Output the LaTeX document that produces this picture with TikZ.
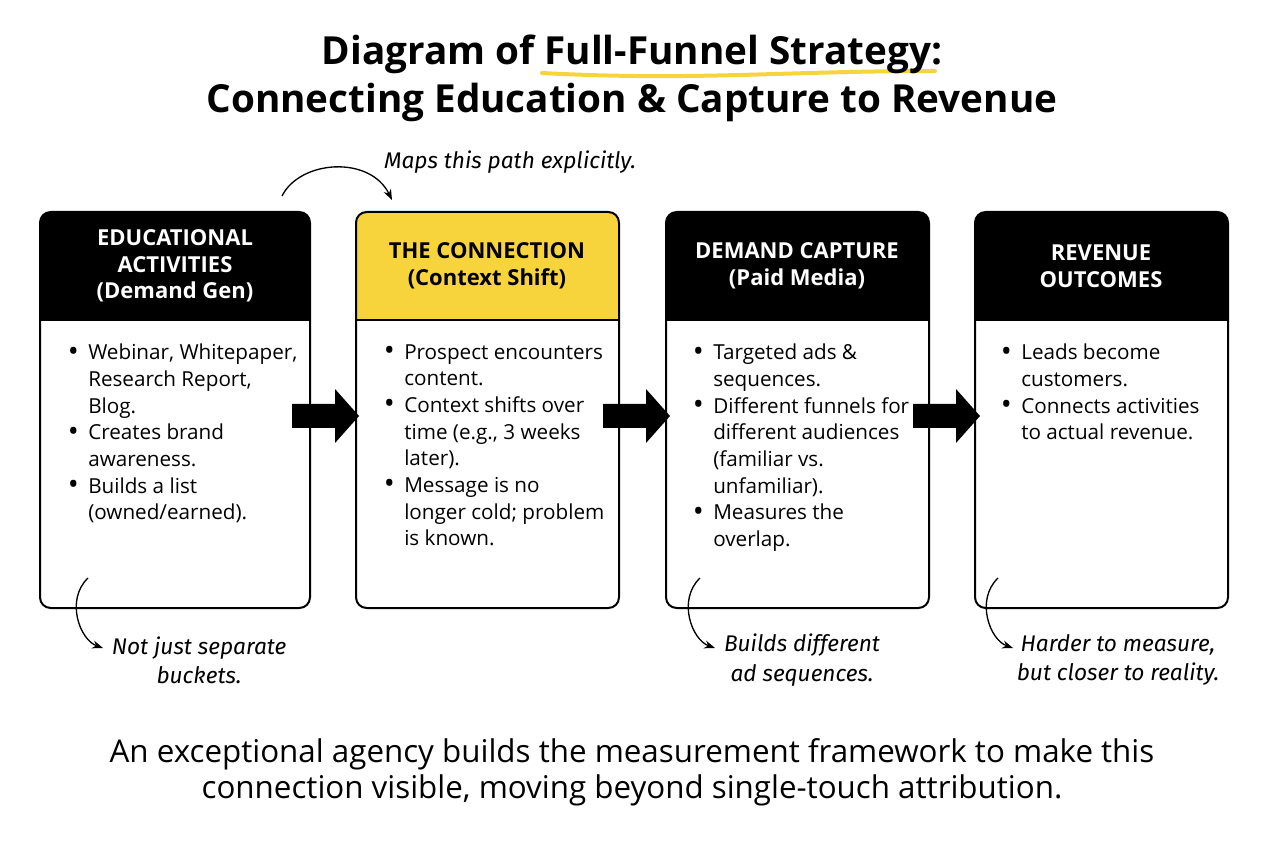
\documentclass[tikz,border=0pt]{standalone}
\usepackage{fontspec}
\setmainfont{Open Sans}
\newfontfamily\hand{Fira Sans}
\usetikzlibrary{arrows.meta}
\definecolor{yel}{HTML}{F7D43C}
\newcommand{\bu}{\llap{\raisebox{-1pt}{\fontsize{22}{20}\selectfont\textbullet}\hspace{7pt}}}
\begin{document}
\begin{tikzpicture}[x=0.75pt,y=-0.75pt,
 box/.style={draw=black,line width=1.5pt,rounded corners=8pt},
 hdr/.style={font=\bfseries\fontsize{16.5}{20}\selectfont,align=center},
 body/.style={font=\fontsize{15.5}{20}\selectfont,anchor=north west,inner sep=0pt,align=left},
 note/.style={font=\hand\itshape\fontsize{17}{22}\selectfont,align=center},
 curl/.style={line width=1pt,-{Stealth[length=8pt]}}]
\useasboundingbox (0,0) rectangle (1264,848);
\draw[yel,line width=3pt,line cap=round] (542,73) to[out=-3,in=180] (935,71);
\node[font=\bfseries\fontsize{29}{36}\selectfont,align=center] (title) at (632,78) {Diagram of Full-Funnel Strategy:\\Connecting Education \& Capture to Revenue};
% boxes
\foreach \a/\b/\c in {40/310/black,356/619/yel,666/929/black,975/1228/black}{
  \begin{scope}
  \clip[rounded corners=8pt] (\a,212) rectangle (\b,608);
  \fill[\c] (\a,212) rectangle (\b,320);
  \end{scope}
  \draw[line width=1.5pt] (\a,320) -- (\b,320);
  \draw[box] (\a,212) rectangle (\b,608);
}
\node[hdr,white] (h1) at (175,266) {EDUCATIONAL\\ACTIVITIES\\(Demand Gen)};
\node[hdr,black] (h2) at (487,266) {THE CONNECTION\\(Context Shift)};
\node[hdr,white] (h3) at (797,266) {DEMAND CAPTURE\\(Paid Media)};
\node[hdr,white] (h4) at (1101,266) {REVENUE\\OUTCOMES};
\node[body] (t1) at (88,344) {\bu Webinar, Whitepaper,\\Research Report,\\Blog.\\\bu Creates brand\\awareness.\\\bu Builds a list\\(owned/earned).};
\node[body] (t2) at (404,344) {\bu Prospect encounters\\content.\\\bu Context shifts over\\time (e.g., 3 weeks\\later).\\\bu Message is no\\longer cold; problem\\is known.};
\node[body] (t3) at (713,344) {\bu Targeted ads \&\\sequences.\\\bu Different funnels for\\different audiences\\(familiar vs.\\unfamiliar).\\\bu Measures the\\overlap.};
\node[body] (t4) at (1021,344) {\bu Leads become\\customers.\\\bu Connects activities\\to actual revenue.};
% block arrows
\foreach \x in {292,603,913}{
  \fill (\x,404) -- (\x+43,404) -- (\x+43,389) -- (\x+67,416) -- (\x+43,443) -- (\x+43,428) -- (\x,428) -- cycle;
}
% notes
\node[note] (n0) at (510,162) {Maps this path explicitly.};
\coordinate (c0) at (282,196);
\draw[curl] (c0) .. controls (300,160) and (370,155) .. (392,200);
\node[note] (n1) at (199,660) {Not just separate\\buckets.};
\coordinate (c1) at (88,578);
\draw[curl] (c1) .. controls (65,600) and (80,640) .. (103,648);
\node[note] (n3) at (802,660) {Builds different\\ad sequences.};
\coordinate (c3) at (700,578);
\draw[curl] (c3) .. controls (677,600) and (692,640) .. (715,648);
\node[note] (n4) at (1118,660) {Harder to measure,\\but closer to reality.};
\coordinate (c4) at (998,578);
\draw[curl] (c4) .. controls (975,600) and (990,640) .. (1013,648);
\node[font=\fontsize{23.5}{27}\selectfont,align=center] (foot) at (632,772) {An exceptional agency builds the measurement framework to make this\\connection visible, moving beyond single-touch attribution.};
\end{tikzpicture}
\end{document}
